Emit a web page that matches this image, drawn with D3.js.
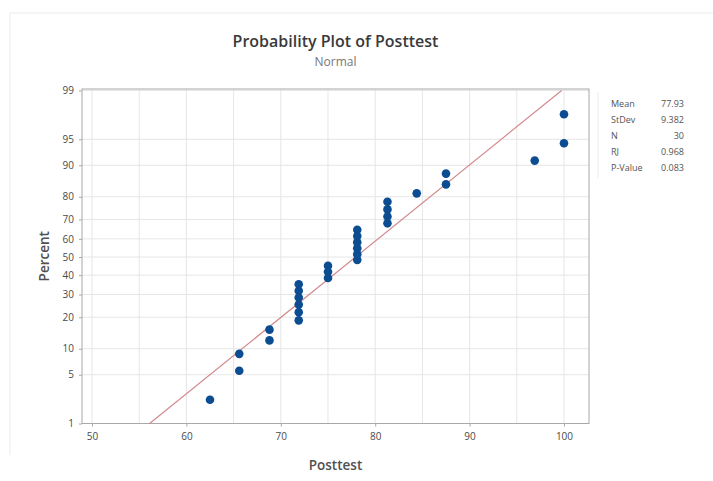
<!DOCTYPE html>
<html>
<head>
<meta charset="utf-8">
<script src="https://cdn.jsdelivr.net/npm/d3@7"></script>
<style>
	body { margin: 0; background: #fff; }
	svg text { font-family: "Open Sans", "Noto Sans", sans-serif; }
</style>
</head>
<body>
<div id="chart"></div>
<script>
// scores of the 30 students, sorted
var posttest = [62.5, 65.6, 65.6, 68.8, 68.8,
	71.9, 71.9, 71.9, 71.9, 71.9, 71.9,
	75, 75, 75,
	78.1, 78.1, 78.1, 78.1, 78.1, 78.1,
	81.3, 81.3, 81.3, 81.3,
	84.4, 87.5, 87.5, 96.9, 100, 100];
// percent position of each point
var percent = [2.3, 5.6, 8.8, 12.2, 15.5,
	18.8, 22.0, 25.3, 28.6, 31.9, 35.2,
	38.5, 41.8, 45.1,
	48.4, 51.6, 54.9, 58.2, 61.5, 64.8,
	68.1, 71.4, 74.7, 78.0,
	81.3, 84.5, 87.8, 91.1, 94.4, 97.7];

// fitted normal line, end points
var fitX = [56.1, 99.75];
var fitPct = [1, 99];

var xTicks = [50, 60, 70, 80, 90, 100];
var xGrid = [50, 55, 60, 65, 70, 75, 80, 85, 90, 95, 100];
var yTicks = [1, 5, 10, 20, 30, 40, 50, 60, 70, 80, 90, 95, 99];

var statLabels = ["Mean", "StDev", "N", "RJ", "P-Value"];
var statValues = ["77.93", "9.382", "30", "0.968", "0.083"];

// inverse normal cdf (Acklam), p in (0,1)
function probit(p) {
	var a = [-39.69683028665376, 220.9460984245205, -275.9285104469687, 138.3577518672690, -30.66479806614716, 2.506628277459239];
	var b = [-54.47609879822406, 161.5858368580409, -155.6989798598866, 66.80131188771972, -13.28068155288572];
	var c = [-0.007784894002430293, -0.3223964580411365, -2.400758277161838, -2.549732539343734, 4.374664141464968, 2.938163982698783];
	var d = [0.007784695709041462, 0.3224671290700398, 2.445134137142996, 3.754408661907416];
	var q, r;
	if (p < 0.02425) {
		q = Math.sqrt(-2 * Math.log(p));
		return (((((c[0]*q+c[1])*q+c[2])*q+c[3])*q+c[4])*q+c[5]) / ((((d[0]*q+d[1])*q+d[2])*q+d[3])*q+1);
	}
	if (p > 1 - 0.02425) {
		q = Math.sqrt(-2 * Math.log(1 - p));
		return -(((((c[0]*q+c[1])*q+c[2])*q+c[3])*q+c[4])*q+c[5]) / ((((d[0]*q+d[1])*q+d[2])*q+d[3])*q+1);
	}
	q = p - 0.5; r = q * q;
	return (((((a[0]*r+a[1])*r+a[2])*r+a[3])*r+a[4])*r+a[5])*q / (((((b[0]*r+b[1])*r+b[2])*r+b[3])*r+b[4])*r+1);
}

var W = 713, H = 481;
var pLeft = 82, pRight = 589, pTop = 89, pBottom = 423.5;

var svg = d3.select("#chart").append("svg")
	.attr("width", W)
	.attr("height", H);

// faint outer frame
svg.append("path")
	.attr("d", "M10,455 V13 H713")
	.attr("fill", "none")
	.attr("stroke", "#ececec");

var x = d3.scaleLinear().domain([48.94, 102.65]).range([pLeft, pRight]);
var z = d3.scaleLinear().domain([probit(0.01), probit(0.99)]).range([pBottom, pTop + 1.5]);
var y = function(pct) { return z(probit(pct / 100)); };

var g = svg.append("g");

// grid
g.selectAll(".vgrid").data(xGrid).enter().append("line")
	.attr("x1", function(d) { return x(d); })
	.attr("x2", function(d) { return x(d); })
	.attr("y1", pTop).attr("y2", pBottom)
	.attr("stroke", "#e6e6e6");

g.selectAll(".hgrid").data(yTicks).enter().append("line")
	.attr("x1", pLeft).attr("x2", pRight)
	.attr("y1", function(d) { return y(d); })
	.attr("y2", function(d) { return y(d); })
	.attr("stroke", "#e6e6e6");

// plot box
g.append("rect")
	.attr("x", pLeft).attr("y", pTop)
	.attr("width", pRight - pLeft).attr("height", pBottom - pTop)
	.attr("fill", "none")
	.attr("stroke", "#a8a8a8");

// axes
var xAxis = d3.axisBottom(x).tickValues(xTicks).tickSize(3).tickPadding(6);
var gx = g.append("g")
	.attr("transform", "translate(0," + pBottom + ")")
	.call(xAxis);
gx.select(".domain").remove();

var yAxis = d3.axisLeft(z)
	.tickValues(yTicks.map(function(d) { return probit(d / 100); }))
	.tickFormat(function(d, i) { return yTicks[i]; })
	.tickSize(3).tickPadding(5);
var gy = g.append("g")
	.attr("transform", "translate(" + pLeft + ",0)")
	.call(yAxis);
gy.select(".domain").remove();

g.selectAll(".tick line").attr("stroke", "#a8a8a8");
g.selectAll(".tick text")
	.attr("fill", "#4a4a4a")
	.style("font-size", "10px");

// fitted line
var line = d3.line()
	.x(function(d) { return x(d[0]); })
	.y(function(d) { return y(d[1]); });
g.append("path")
	.datum(d3.zip(fitX, fitPct))
	.attr("d", line)
	.attr("fill", "none")
	.attr("stroke", "#d28a8e")
	.attr("stroke-width", 1.2);

// points
g.selectAll(".dot").data(d3.zip(posttest, percent)).enter().append("circle")
	.attr("class", "dot")
	.attr("cx", function(d) { return x(d[0]); })
	.attr("cy", function(d) { return y(d[1]); })
	.attr("r", 4.3)
	.attr("fill", "#0c4d92");

// titles
var cx = (pLeft + pRight) / 2;
svg.append("text")
	.attr("x", cx).attr("y", 47)
	.attr("text-anchor", "middle")
	.attr("fill", "#3a3a3a")
	.style("font-size", "16px")
	.style("font-weight", 600)
	.text("Probability Plot of Posttest");
svg.append("text")
	.attr("x", cx).attr("y", 66)
	.attr("text-anchor", "middle")
	.attr("fill", "#777")
	.style("font-size", "12px")
	.text("Normal");

svg.append("text")
	.attr("x", cx).attr("y", 470)
	.attr("text-anchor", "middle")
	.attr("fill", "#505050")
	.style("font-size", "13.5px")
	.style("font-weight", 600)
	.text("Posttest");
svg.append("text")
	.attr("transform", "translate(49," + ((pTop + pBottom) / 2) + ") rotate(-90)")
	.attr("text-anchor", "middle")
	.attr("fill", "#505050")
	.style("font-size", "13.5px")
	.style("font-weight", 600)
	.text("Percent");

// stats table
svg.append("line")
	.attr("x1", 598).attr("x2", 598)
	.attr("y1", 92).attr("y2", 178)
	.attr("stroke", "#ececec");
var stats = svg.append("g");
stats.selectAll(".slab").data(statLabels).enter().append("text")
	.attr("x", 611)
	.attr("y", function(d, i) { return 107 + i * 16; })
	.attr("fill", "#555")
	.style("font-size", "9px")
	.text(function(d) { return d; });
stats.selectAll(".sval").data(statValues).enter().append("text")
	.attr("x", 684)
	.attr("y", function(d, i) { return 107 + i * 16; })
	.attr("text-anchor", "end")
	.attr("fill", "#555")
	.style("font-size", "9px")
	.text(function(d) { return d; });
</script>
</body>
</html>
